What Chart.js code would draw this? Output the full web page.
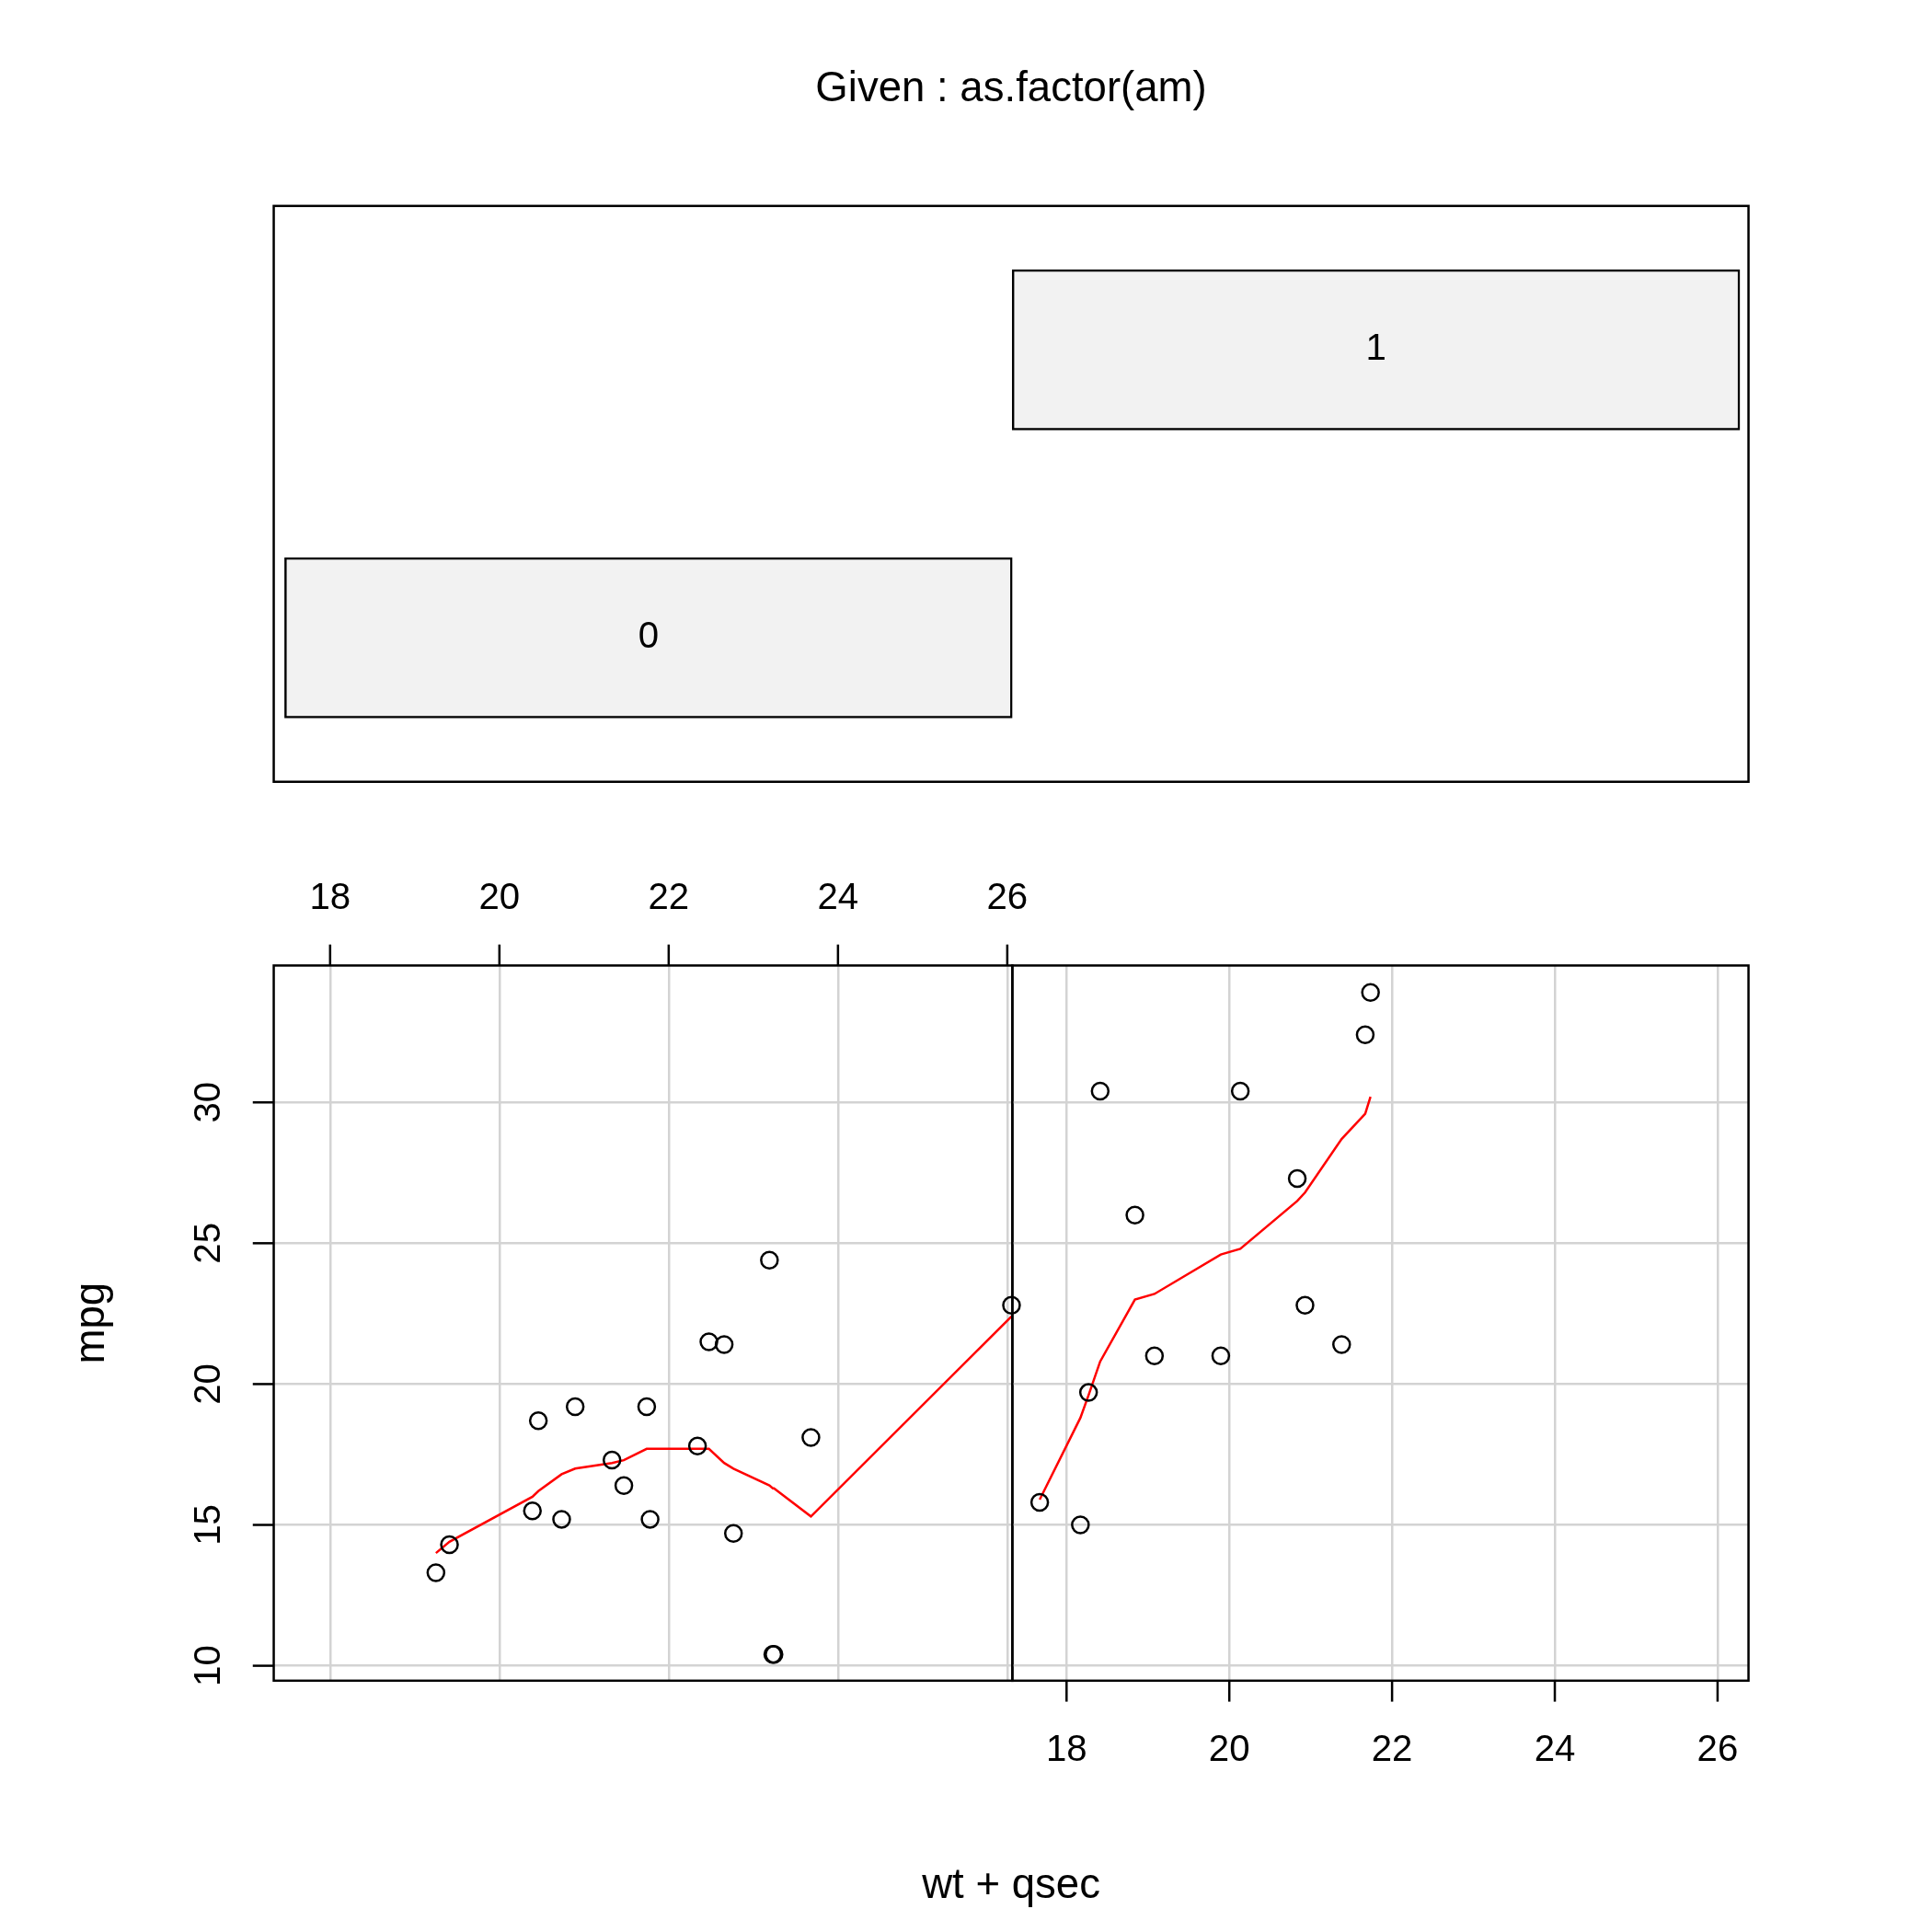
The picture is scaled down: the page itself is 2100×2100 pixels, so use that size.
<!DOCTYPE html>
<html><head><meta charset="utf-8">
<script src="https://cdn.jsdelivr.net/npm/chart.js@4"></script>
<style>
body{margin:0;background:#fff}
#wrap{position:relative;width:2100px;height:2100px}
canvas{position:absolute;left:0;top:0}
</style></head><body>
<div id="wrap">
<canvas id="top" width="2100" height="2100"></canvas>
<canvas id="left" width="2100" height="2100"></canvas>
<canvas id="right" width="2100" height="2100"></canvas>
</div>
<script>
// mtcars: wt + qsec vs mpg, split by am
const am0X = [19.25, 19.41, 20.39, 20.46, 20.735, 20.895, 21.33, 21.47, 21.74, 21.78, 22.34, 22.475, 22.655, 22.765, 23.19, 23.23, 23.244, 23.68, 26.05];
const am0Y = [13.3, 14.3, 15.5, 18.7, 15.2, 19.2, 17.3, 16.4, 19.2, 15.2, 17.8, 21.5, 21.4, 14.7, 24.4, 10.4, 10.4, 18.1, 22.8];
const am1X = [17.67, 18.17, 18.27, 18.413, 18.84, 19.08, 19.895, 20.135, 20.835, 20.93, 21.38, 21.67, 21.735];
const am1Y = [15.8, 15.0, 19.7, 30.4, 26.0, 21.0, 21.0, 30.4, 27.3, 22.8, 21.4, 32.4, 33.9];
// smoother
const am0S = [14.0, 14.4, 16.0, 16.2, 16.8, 17.0, 17.2, 17.3, 17.7, 17.7, 17.7, 17.7, 17.2, 17.0, 16.4, 16.3, 16.3, 15.3, 22.4];
const am1S = [15.9, 18.8, 19.6, 20.8, 23.0, 23.2, 24.6, 24.8, 26.5, 26.8, 28.7, 29.6, 30.2];
const xTicks = [18, 20, 22, 24, 26];
const yTicks = [10, 15, 20, 25, 30];
const amLevels = ['1', '0'];
const amRanges = [[0.5, 1.5], [-0.5, 0.5]];

const s = 1.3403;
const FONT = 'Arial, "Liberation Sans", sans-serif';
const pad = (L, T, R, B) => ({left: L * s, top: T * s, right: 2100 - R * s, bottom: 2100 - B * s});
const pts = (xs, ys) => xs.map((x, i) => ({x: x, y: ys[i]}));

function boxPlugin(opts) {
    return {
        id: 'box',
        afterDraw(chart) {
            const c = chart.ctx, a = chart.chartArea;
            c.save();
            c.strokeStyle = '#000';
            c.lineWidth = 2.5;
            c.strokeRect(a.left, a.top, a.right - a.left, a.bottom - a.top);
            c.fillStyle = '#000';
            c.font = (30 * s) + 'px ' + FONT;
            const tl = 17 * s;
            if (opts.xSide) {
                const sx = chart.scales.x;
                c.textAlign = 'center';
                xTicks.forEach(t => {
                    const px = sx.getPixelForValue(t);
                    c.beginPath();
                    if (opts.xSide === 'top') {
                        c.moveTo(px, a.top); c.lineTo(px, a.top - tl); c.stroke();
                        c.textBaseline = 'middle';
                        c.fillText(String(t), px, a.top - 54 * s);
                    } else {
                        c.moveTo(px, a.bottom); c.lineTo(px, a.bottom + tl); c.stroke();
                        c.textBaseline = 'middle';
                        c.fillText(String(t), px, a.bottom + 57 * s);
                    }
                });
            }
            if (opts.yAxis) {
                const sy = chart.scales.y;
                yTicks.forEach(t => {
                    const py = sy.getPixelForValue(t);
                    c.beginPath();
                    c.moveTo(a.left, py); c.lineTo(a.left - tl, py); c.stroke();
                    c.save();
                    c.translate(a.left - 52 * s, py);
                    c.rotate(-Math.PI / 2);
                    c.textAlign = 'center';
                    c.textBaseline = 'middle';
                    c.fillText(String(t), 0, 0);
                    c.restore();
                });
            }
            c.restore();
        }
    };
}

function panel(id, padding, x, y, smooth, xmax, opts) {
    const grid = {color: '#d3d3d3', lineWidth: 2.5, drawTicks: false};
    new Chart(document.getElementById(id), {
        type: 'scatter',
        data: {datasets: [
            {data: pts(x, y), pointRadius: 9, pointBorderColor: '#000', pointBorderWidth: 2.5,
             pointBackgroundColor: 'rgba(0,0,0,0)', showLine: false, clip: false},
            {data: pts(x, smooth), showLine: true, pointRadius: 0, borderColor: '#ff0000', borderWidth: 2.5}
        ]},
        options: {
            responsive: false, animation: false, devicePixelRatio: 1,
            layout: {padding: padding},
            plugins: {legend: {display: false}, tooltip: {enabled: false}},
            scales: {
                x: {type: 'linear', min: 17.334, max: xmax, grid: grid, border: {display: false},
                    ticks: {display: false, padding: 0},
                    afterBuildTicks: sc => { sc.ticks = xTicks.map(v => ({value: v})); }},
                y: {type: 'linear', min: 9.47, max: 34.86, grid: grid, border: {display: false},
                    ticks: {display: false, padding: 0},
                    afterBuildTicks: sc => { sc.ticks = yTicks.map(v => ({value: v})); }}
            }
        },
        plugins: [boxPlugin(opts)]
    });
}

// conditioning panel
new Chart(document.getElementById('top'), {
    type: 'bar',
    data: {labels: amLevels, datasets: [{data: amRanges, backgroundColor: '#f2f2f2', borderColor: '#000',
        borderWidth: 2.5, borderSkipped: false, barThickness: 130 * s}]},
    options: {
        indexAxis: 'y', responsive: false, animation: false, devicePixelRatio: 1,
        layout: {padding: pad(222, 167, 1418, 634)},
        plugins: {legend: {display: false}, tooltip: {enabled: false}},
        scales: {x: {display: false, min: -0.515, max: 1.512}, y: {display: false}}
    },
    plugins: [boxPlugin({}), {
        id: 'barText',
        afterDraw(chart) {
            const c = chart.ctx;
            c.save();
            c.fillStyle = '#000';
            c.font = (30 * s) + 'px ' + FONT;
            c.textAlign = 'center'; c.textBaseline = 'middle';
            chart.getDatasetMeta(0).data.forEach((b, i) => {
                c.fillText(amLevels[i], (b.x + b.base) / 2, b.y);
            });
            // titles
            c.font = (34 * s) + 'px ' + FONT;
            c.fillText('Given : as.factor(am)', 820 * s, 73 * s);
            c.fillText('wt + qsec', 820 * s, 1530 * s);
            c.translate(75 * s, 1073 * s);
            c.rotate(-Math.PI / 2);
            c.fillText('mpg', 0, 0);
            c.restore();
        }
    }]
});

panel('left', pad(222, 783, 821, 1363), am0X, am0Y, am0S, 26.06, {xSide: 'top', yAxis: true});
panel('right', pad(821, 783, 1418, 1363), am1X, am1Y, am1S, 26.38, {xSide: 'bottom'});
</script>
</body></html>
